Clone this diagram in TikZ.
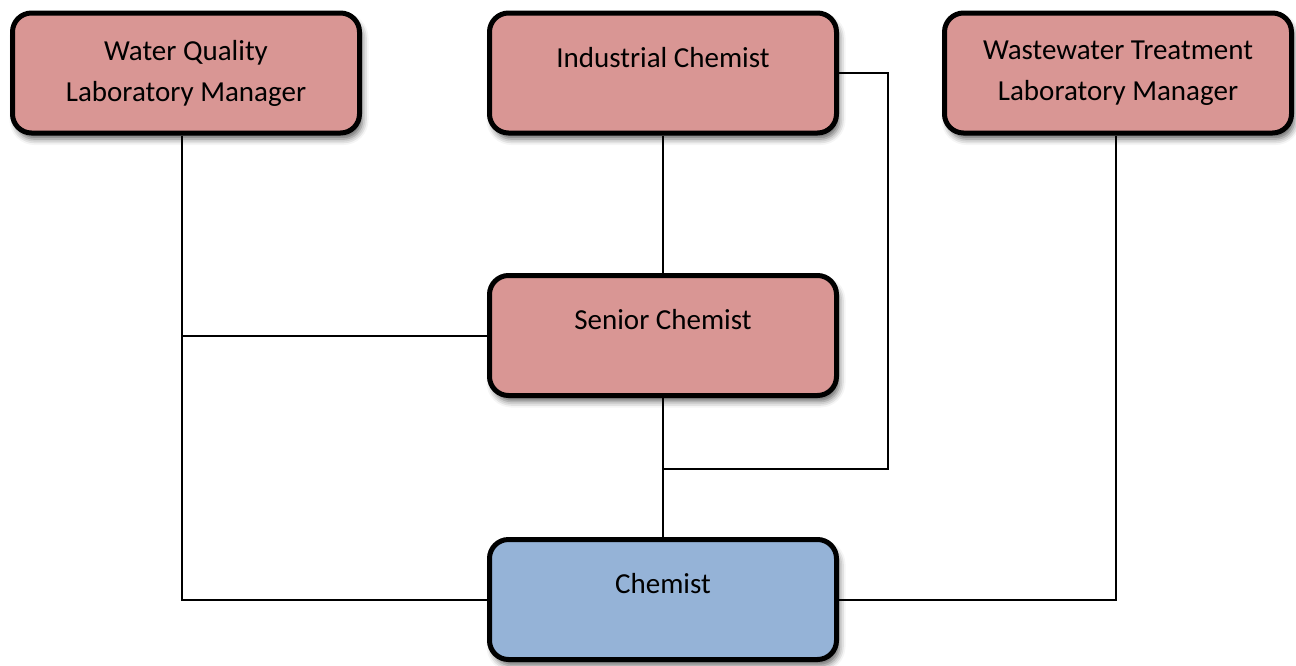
\documentclass[tikz,border=0pt]{standalone}
\usepackage{fontspec}
\setmainfont{Carlito}
\usetikzlibrary{positioning,shadows.blur,backgrounds}
\definecolor{rolepink}{RGB}{217,150,148}
\definecolor{roleblue}{RGB}{149,179,215}

\begin{document}
\begin{tikzpicture}[x=1pt,y=-1pt,on grid,
    box/.style={draw=black,line width=5pt,rounded corners=19pt,fill=rolepink,
      minimum width=347pt,minimum height=120pt,inner sep=0pt,align=center,
      font=\fontsize{29}{41}\selectfont,
      blur shadow={shadow xshift=3pt,shadow yshift=-6pt,shadow blur radius=6pt,shadow opacity=60}},
    oneline/.style={text height=20pt,text depth=31.4pt},
    link/.style={line width=2pt}]
  \useasboundingbox (0,0) rectangle (1296,665);
  \node[box,oneline] (ic) at (663,73) {Industrial Chemist};
  \node[box] (wqlm) [left=477pt of ic] {Water Quality\\Laboratory Manager};
  \node[box] (wwtlm) [right=455pt of ic] {Wastewater Treatment\\Laboratory Manager};
  \node[box,oneline] (senior) [below=262.5pt of ic] {Senior Chemist};
  \node[box,oneline,fill=roleblue] (chemist) [below=264pt of senior] {Chemist};
  \coordinate (wq foot) at ([xshift=-4pt]wqlm.south);
  \coordinate (ww foot) at ([xshift=-2pt]wwtlm.south);
  \coordinate (loop corner) at (888,469);
  \begin{scope}[on background layer]
    \draw[link] (wq foot) |- (chemist.west);
    \draw[link] (senior.west) -- (senior.west -| wq foot);
    \draw[link] (ic.south) -- (senior.north);
    \draw[link] (senior.south) -- (chemist.north);
    \draw[link] (ic.east) -| (loop corner) -- (loop corner -| chemist.north);
    \draw[link] (ww foot) |- (chemist.east);
  \end{scope}
\end{tikzpicture}
\end{document}
